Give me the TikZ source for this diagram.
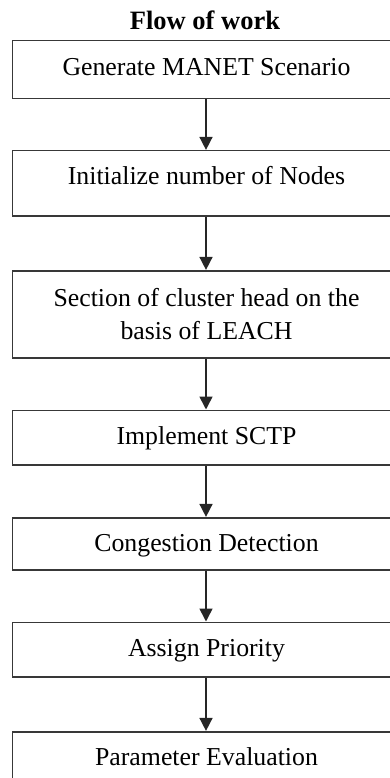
\documentclass[tikz,border=0pt]{standalone}
\usepackage{fontspec}
\setmainfont{Liberation Serif}
\usetikzlibrary{arrows.meta}
\begin{document}
\begin{tikzpicture}[x=1pt,y=-1pt,
  stepbox/.style={draw=black!78, line width=1.6pt, rectangle, minimum width=388pt,
    inner sep=0pt, font=\fontsize{25.8pt}{32.4pt}\selectfont, text height=17pt},
  flow/.style={draw=black!85, line width=1.6pt, -{Triangle[width=13pt,length=13pt]}},
  titletext/.style={font=\fontsize{26.5pt}{30pt}\selectfont\bfseries, anchor=base, inner sep=0pt}]
\useasboundingbox (0,0) rectangle (390,778);
\clip (0,0) rectangle (390,778);
\node[titletext] (title) at (205,29.3) {Flow of work};
\node[stepbox, minimum height=58pt, text depth=4.4pt] (b1) at (206.5,69.7) {Generate MANET Scenario};
\node[stepbox, minimum height=65.3pt, text depth=13.7pt] (b2) at (206.5,183.35) {Initialize number of Nodes};
\node[draw=black!78, line width=1.6pt, rectangle, minimum width=388pt, minimum height=87pt,
  inner sep=0pt, align=center, font=\fontsize{25.8pt}{32.4pt}\selectfont] (b3) at (206.5,314.2)
  {Section of cluster head on the\\basis of LEACH};
\node[stepbox, minimum height=54.4pt, text depth=4pt] (b4) at (206.5,437.5) {Implement SCTP};
\node[stepbox, minimum height=52.3pt, text depth=1.3pt] (b5) at (206.5,543.85) {Congestion Detection};
\node[stepbox, minimum height=54.4pt, text depth=2.6pt] (b6) at (206.5,649.5) {Assign Priority};
\node[stepbox, minimum height=55pt, text depth=5.4pt] (b7) at (206.5,759.2) {Parameter Evaluation};
\draw[flow] (b1.south -| 206,0) -- (b2.north -| 206,0);
\draw[flow] (b2.south -| 206,0) -- (b3.north -| 206,0);
\draw[flow] (b3.south -| 206,0) -- (b4.north -| 206,0);
\draw[flow] (b4.south -| 206,0) -- (b5.north -| 206,0);
\draw[flow] (b5.south -| 206,0) -- (b6.north -| 206,0);
\draw[flow] (b6.south -| 206,0) -- (b7.north -| 206,0);
\end{tikzpicture}
\end{document}
